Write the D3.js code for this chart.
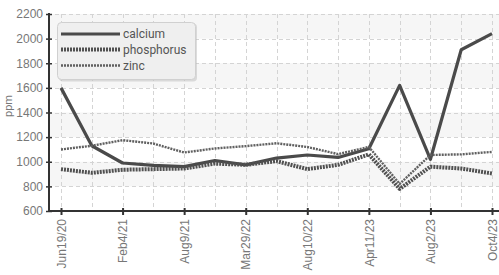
<!DOCTYPE html>
<html>
<head>
<meta charset="utf-8">
<script src="https://cdn.jsdelivr.net/npm/d3@7/dist/d3.min.js"></script>
<style>
  html, body { margin: 0; padding: 0; background: #fff; }
  svg { display: block; font-family: Roboto, "Noto Sans", sans-serif; }
</style>
</head>
<body>
<svg id="chart" width="499" height="275"></svg>
<script>
// ---- data ----
const tickLabels = ["Jun19/20", "", "Feb4/21", "", "Aug9/21", "", "Mar29/22", "", "Aug10/22", "", "Apr11/23", "", "Aug2/23", "", "Oct4/23"];
const calcium    = [1600, 1130, 990, 970, 960, 1010, 975, 1030, 1055, 1035, 1105, 1620, 1020, 1910, 2040];
const phosphorus = [940, 910, 935, 940, 945, 985, 975, 1005, 940, 975, 1060, 780, 960, 945, 905];
const zinc       = [1100, 1130, 1175, 1148, 1075, 1108, 1127, 1150, 1120, 1062, 1120, 820, 1055, 1060, 1080];
const yTicks     = [600, 800, 1000, 1200, 1400, 1600, 1800, 2000, 2200];
const seriesNames = ["calcium", "phosphorus", "zinc"];

const series = [
  { name: seriesNames[0], values: calcium,    color: "#4a4a4a", width: 3.2, dash: null },
  { name: seriesNames[1], values: phosphorus, color: "#505050", width: 4,   dash: "2,1" },
  { name: seriesNames[2], values: zinc,       color: "#606060", width: 2.4, dash: "2,1" }
];

const svg = d3.select("#chart");
const plotLeft = 49, plotRight = 499, plotTop = 14, plotBottom = 211;

const idx = d3.range(tickLabels.length);
const x = d3.scalePoint().domain(idx).range([61, 492]);
const y = d3.scaleLinear().domain([600, 2200]).range([plotBottom, plotTop]);

// alternating bands
const bands = svg.append("g");
for (let i = 0; i < yTicks.length - 1; i++) {
  if (i % 2 === 1) {
    bands.append("rect")
      .attr("x", plotLeft).attr("width", plotRight - plotLeft)
      .attr("y", y(yTicks[i + 1])).attr("height", y(yTicks[i]) - y(yTicks[i + 1]))
      .attr("fill", "#f6f6f6");
  }
}

// grid
const grid = svg.append("g").attr("stroke", "#d4d4d4").attr("stroke-dasharray", "4,3").attr("stroke-width", 1);
yTicks.slice(1).forEach(t => {
  grid.append("line").attr("x1", plotLeft + 6).attr("x2", plotRight)
    .attr("y1", Math.round(y(t)) + 0.5).attr("y2", Math.round(y(t)) + 0.5);
});
idx.forEach(i => {
  grid.append("line").attr("x1", Math.round(x(i)) + 0.5).attr("x2", Math.round(x(i)) + 0.5)
    .attr("y1", plotTop).attr("y2", plotBottom - 4);
});

// lines
const line = d3.line().x((d, i) => x(i)).y(d => y(d)).curve(d3.curveLinear);
series.forEach(s => {
  svg.append("path").datum(s.values)
    .attr("d", line)
    .attr("fill", "none")
    .attr("stroke", s.color)
    .attr("stroke-width", s.width)
    .attr("stroke-linejoin", "round")
    .attr("stroke-dasharray", s.dash);
});

// y axis
const yAxis = d3.axisLeft(y).tickValues(yTicks).tickSize(0).tickPadding(5).tickFormat(d3.format("d"));
const gy = svg.append("g").attr("transform", `translate(${plotLeft},0)`).call(yAxis);
gy.select(".domain").remove();
gy.selectAll("text").attr("fill", "#777").style("font-size", "12px").attr("dx", "-1");
gy.selectAll(".tick").append("line").attr("x1", -3).attr("x2", 3).attr("stroke", "#333").attr("stroke-width", 1.5);
svg.append("line").attr("x1", plotLeft).attr("x2", plotLeft).attr("y1", plotTop - 1).attr("y2", plotBottom + 1)
  .attr("stroke", "#333").attr("stroke-width", 2);

// x axis
const xAxis = d3.axisBottom(x).tickValues(idx.filter(i => tickLabels[i] !== ""))
  .tickFormat(i => tickLabels[i]).tickSize(0);
const gx = svg.append("g").attr("transform", `translate(0,${plotBottom})`).call(xAxis);
gx.select(".domain").remove();
gx.selectAll(".tick").append("line").attr("y1", -3).attr("y2", 4).attr("stroke", "#333").attr("stroke-width", 2);
gx.selectAll("text")
  .attr("fill", "#777").style("font-size", "12px")
  .attr("text-anchor", "end")
  .attr("transform", "rotate(-90)")
  .attr("x", -8).attr("y", 0).attr("dy", "0.35em");
svg.append("line").attr("x1", plotLeft - 1).attr("x2", plotRight).attr("y1", plotBottom).attr("y2", plotBottom)
  .attr("stroke", "#333").attr("stroke-width", 2);

// y title
svg.append("text").attr("transform", "translate(12,106) rotate(-90)")
  .attr("text-anchor", "middle").attr("fill", "#777").style("font-size", "11px").text("ppm");

// legend
const lg = svg.append("g");
lg.append("rect").attr("x", 59).attr("y", 23.5).attr("width", 138).attr("height", 58).attr("rx", 4)
  .attr("fill", "#bbb").attr("opacity", 0.5);
lg.append("rect").attr("x", 57.5).attr("y", 22.5).attr("width", 138).attr("height", 57).attr("rx", 4)
  .attr("fill", "#efefef").attr("stroke", "#d0d0d0").attr("stroke-width", 1);
const rowsY = [34, 49.5, 65.5];
series.forEach((s, i) => {
  lg.append("line").attr("x1", 61).attr("x2", 120).attr("y1", rowsY[i]).attr("y2", rowsY[i])
    .attr("stroke", s.color).attr("stroke-width", s.width).attr("stroke-dasharray", s.dash);
  lg.append("text").attr("x", 123).attr("y", rowsY[i]).attr("dy", "0.35em")
    .attr("fill", "#555").style("font-size", "12px").text(s.name);
});
</script>
</body>
</html>
